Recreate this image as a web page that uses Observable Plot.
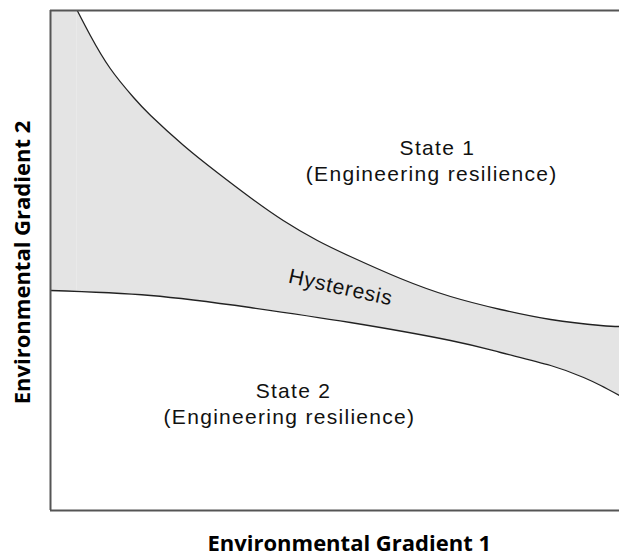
<!DOCTYPE html>
<html>
<head>
<meta charset="utf-8">
<script src="https://cdn.jsdelivr.net/npm/d3@7"></script>
<script src="https://cdn.jsdelivr.net/npm/@observablehq/plot@0.6"></script>
<style>
  html, body { margin: 0; padding: 0; background: #fff; overflow: hidden; width: 619px; height: 555px; }
  #chart { width: 619px; height: 555px; overflow: hidden; }
  #chart svg { display: block; max-width: none !important; width: 650px !important; height: 555px !important; }
</style>
</head>
<body>
<div id="chart"></div>
<script>
// Upper threshold curve (State 1 boundary)
const upperX = [4.7, 7.0, 10.5, 14.6, 17.6, 23.4, 29.3, 35.1, 40.9, 46.9, 52.7, 61.5, 70.3, 79.1, 87.9, 96.7, 100];
const upperY = [100, 95, 88.4, 82.6, 79, 73, 67.6, 62.6, 58, 54, 50.8, 46.4, 42.8, 40.2, 38.2, 37, 36.8];
// Lower threshold curve (State 2 boundary)
const lowerX = [0, 17.6, 35.1, 52.7, 70.3, 79.1, 87.9, 93.7, 96.7, 100];
const lowerY = [44, 43, 40.6, 37.6, 34, 31.6, 29, 26.6, 25, 23];

// Labels
const stateLabels = ["State 1", "(Engineering resilience)", "State 2", "(Engineering resilience)"];
const stateLabelX = [68.0, 67.0, 42.7, 42.0];
const stateLabelY = [71.2, 66.0, 22.6, 17.4];
const hysteresisLabel = "Hysteresis";
const hysteresisPos = [51.0, 44.6];
const xTitle = "Environmental Gradient 1";
const yTitle = "Environmental Gradient 2";

const upper = upperX.map((x, i) => ({x, y: upperY[i]}));
const lower = lowerX.map((x, i) => ({x, y: lowerY[i]}));
const labels = stateLabels.map((t, i) => ({t, x: stateLabelX[i], y: stateLabelY[i]}));

const curve = "natural";
const fillGray = "#e4e4e4";
const curveColor = "#222222";
const frameColor = "#555555";

// the frame continues past the right edge of the picture, as in the reference
const plot = Plot.plot({
  width: 650,
  height: 555,
  marginTop: 10,
  marginLeft: 50,
  marginRight: 31,
  marginBottom: 45,
  x: {domain: [0, 100], axis: null},
  y: {domain: [0, 100], axis: null},
  style: {background: "#fff", fontFamily: "Liberation Sans, Arial, sans-serif"},
  marks: [
    // gray region left of where the upper curve meets the top
    Plot.rect([upper[0]], {x1: 0, x2: "x", y1: 0, y2: 100, fill: fillGray}),
    // gray under the upper curve, then white under the lower curve
    Plot.areaY(upper, {x: "x", y1: 0, y2: "y", fill: fillGray, curve, clip: true}),
    Plot.areaY(lower, {x: "x", y1: 0, y2: "y", fill: "#fff", curve, clip: true}),
    Plot.line(upper, {x: "x", y: "y", stroke: curveColor, strokeWidth: 1.3, curve, clip: true}),
    Plot.line(lower, {x: "x", y: "y", stroke: curveColor, strokeWidth: 1.3, curve, clip: true}),
    // frame: left, bottom and top
    Plot.ruleX([0], {stroke: frameColor, strokeWidth: 2}),
    Plot.ruleY([0, 100], {x1: 0, x2: 110, stroke: frameColor, strokeWidth: 2}),
    // state labels
    Plot.text(labels, {x: "x", y: "y", text: "t", fontSize: 21, lineAnchor: "bottom", fill: "#111",
      fontFamily: "Liberation Sans, Arial, sans-serif"}),
    Plot.text([hysteresisLabel], {x: () => hysteresisPos[0], y: () => hysteresisPos[1], text: d => d,
      rotate: 12.5, fontSize: 21, lineAnchor: "middle", fill: "#111",
      fontFamily: "Liberation Sans, Arial, sans-serif"}),
    // axis titles
    Plot.text([xTitle], {x: () => 52.5, frameAnchor: "bottom", text: d => d, dy: 40, lineAnchor: "bottom",
      fontSize: 22, fontWeight: "bold", fontFamily: "Open Sans, sans-serif", fill: "#000"}),
    Plot.text([yTitle], {frameAnchor: "left", text: d => d, dx: -28, dy: 2, rotate: -90,
      textAnchor: "middle", lineAnchor: "middle",
      fontSize: 22, fontWeight: "bold", fontFamily: "Open Sans, sans-serif", fill: "#000"})
  ]
});

// wider letter spacing of the state labels, as in the reference
plot.querySelectorAll("text").forEach(t => {
  const s = t.textContent;
  if (stateLabels.includes(s)) t.setAttribute("letter-spacing", "1.3");
  if (s === hysteresisLabel) t.setAttribute("letter-spacing", "0.8");
});
plot.style.maxWidth = "none";

document.getElementById("chart").appendChild(plot);
</script>
</body>
</html>
